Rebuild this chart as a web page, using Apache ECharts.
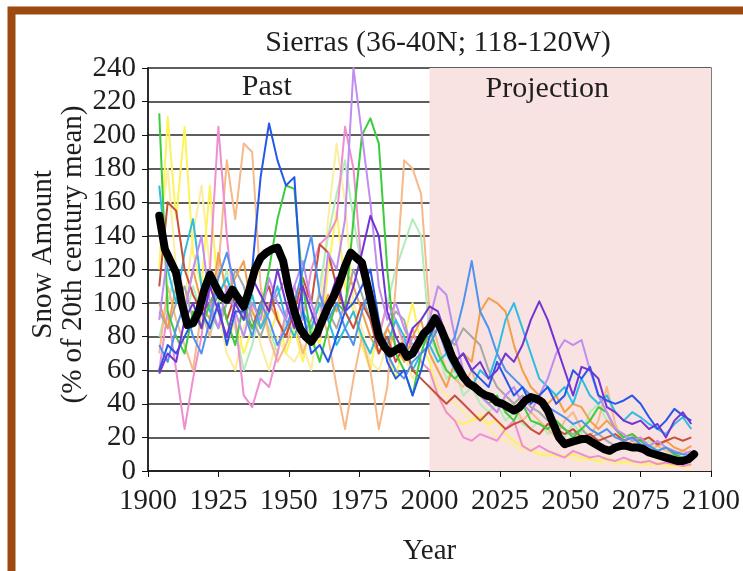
<!DOCTYPE html>
<html><head><meta charset="utf-8">
<script src="https://cdn.jsdelivr.net/npm/echarts@6/dist/echarts.min.js"></script>
<style>html,body{margin:0;padding:0;background:#fff}#c{width:743px;height:571px}</style>
</head><body><div id="c"></div>
<script>
// ---------- DATA ----------
const titleText = 'Sierras (36-40N; 118-120W)';
const xTickMin = 1900, xTickMax = 2100, xTickStep = 25;
const yTickMin = 0, yTickMax = 240, yTickStep = 20;
const pastLabel = 'Past';
const projLabel = 'Projection';
const projectionStart = 2000;

const runYears = [
  1904,1907,1910,1913,1916,1919,1922,1925,
  1928,1931,1934,1937,1940,1943,1946,1949,
  1952,1955,1958,1961,1964,1967,1970,1973,
  1976,1979,1982,1985,1988,1991,1994,1997,
  2000,2003,2006,2009,2012,2015,2018,2021,
  2024,2027,2030,2033,2036,2039,2042,2045,
  2048,2051,2054,2057,2060,2063,2066,2069,
  2072,2075,2078,2081,2084,2087,2090,2093
];

const runGreen = [
  213,95,80,70,95,85,100,110,
  90,75,100,85,95,120,150,170,
  168,110,80,65,85,100,95,150,
  200,210,195,120,70,60,45,70,
  85,70,60,55,60,50,45,40,
  45,35,30,40,30,28,25,30,
  25,20,25,30,38,35,25,20,
  22,18,15,12,14,10,8,6
];
const runYellow = [
  120,211,150,205,130,110,170,100,
  75,90,70,85,100,80,95,70,
  85,65,90,75,120,155,110,95,
  75,60,90,70,55,80,100,75,
  65,45,35,30,28,30,32,28,
  30,22,18,15,12,10,9,10,
  8,10,8,7,6,8,6,5,
  6,5,4,5,4,3,4,3
];
const runPink = [
  60,95,60,25,55,80,120,205,
  140,90,45,38,55,50,70,95,
  110,90,120,135,140,150,205,180,
  120,95,80,100,90,75,85,65,
  60,45,35,30,20,18,22,20,
  18,25,30,15,12,15,12,10,
  8,12,10,8,9,7,6,8,
  6,5,6,4,5,4,3,4
];
const runPeach = [
  70,110,90,75,60,95,80,120,
  185,150,195,190,110,80,65,75,
  90,70,85,100,80,50,25,55,
  80,60,25,50,110,185,180,165,
  95,75,60,55,50,60,45,40,
  35,45,40,30,35,30,25,20,
  30,35,25,20,30,50,28,15,
  18,14,12,15,12,10,12,10
];
const runBlue = [
  60,75,70,80,90,95,85,100,
  75,95,95,120,175,207,185,170,
  175,95,70,75,65,80,95,100,
  110,120,90,65,55,60,45,60,
  80,90,75,65,70,60,55,50,
  65,55,45,50,40,45,50,40,
  45,60,55,62,45,42,40,42,
  45,40,32,25,30,37,33,30
];
const runViolet = [
  58,70,65,90,100,85,110,95,
  80,100,90,115,105,95,120,100,
  85,110,95,80,100,115,95,110,
  130,152,140,95,80,70,85,90,
  98,95,80,65,70,60,65,55,
  60,70,65,75,90,101,90,75,
  60,45,62,60,55,38,35,30,
  28,30,25,28,20,30,35,28
];
const runLavender = [
  90,130,110,95,120,140,100,85,
  110,95,80,100,90,115,100,90,
  110,125,100,85,130,120,150,240,
  200,160,110,90,100,85,75,80,
  90,110,105,80,60,50,45,40,
  35,45,50,40,35,45,55,70,
  78,75,78,60,45,35,25,22,
  18,20,15,18,14,12,10,12
];
const runCyan = [
  170,120,100,130,150,110,95,105,
  115,100,90,105,85,95,110,90,
  80,95,85,100,90,75,85,95,
  80,70,85,75,90,80,60,70,
  75,65,70,60,55,50,60,55,
  70,90,100,85,70,55,50,45,
  50,40,55,45,40,45,35,30,
  35,32,28,25,22,28,32,25
];
const runOrange = [
  100,85,110,95,120,100,90,130,
  105,115,125,95,85,100,90,80,
  100,85,75,90,105,95,120,110,
  95,80,70,85,75,65,80,90,
  70,60,50,65,70,65,95,103,
  100,95,75,60,50,45,40,45,
  35,40,38,30,25,30,25,20,
  22,18,20,15,18,14,12,15
];
const runLightGreen = [
  80,100,120,90,110,95,80,100,
  120,85,60,75,95,85,70,90,
  110,95,80,110,140,165,185,150,
  120,95,80,100,120,135,150,140,
  80,70,55,60,45,50,40,35,
  40,30,35,28,25,30,22,25,
  20,28,22,35,40,30,25,18,
  20,15,18,12,14,10,8,9
];
const runRed = [
  110,160,155,120,105,95,100,110,
  90,105,95,85,100,110,90,80,
  95,115,100,135,130,110,95,85,
  100,90,70,80,65,75,60,55,
  50,45,40,45,40,35,30,35,
  30,25,28,30,25,22,28,25,
  22,25,20,22,18,20,22,18,
  20,18,20,16,18,20,18,20
];
const runGray = [
  95,85,100,110,90,105,95,85,
  100,120,110,90,80,95,105,115,
  95,80,90,105,95,85,100,120,
  105,90,75,85,95,90,70,75,
  80,85,80,75,85,80,75,60,
  50,45,40,45,38,35,30,28,
  25,22,25,20,22,18,15,16,
  14,12,13,11,10,9,8,7
];
const runPaleYellow = [
  140,180,120,100,140,170,120,95,
  70,60,85,100,75,60,80,70,
  65,75,60,95,150,195,160,100,
  85,65,60,75,90,70,55,65,
  60,50,45,40,35,30,35,25,
  20,18,15,12,14,10,12,8,
  10,7,6,8,5,6,4,5,
  4,3,4,3,2,3,2,2
];
const runCornflower = [
  75,65,85,100,80,70,90,115,
  130,110,95,80,100,90,75,85,
  100,120,140,105,90,100,85,75,
  95,110,85,70,60,55,65,70,
  75,85,70,80,100,125,95,85,
  70,60,55,50,45,40,38,35,
  32,28,30,25,22,25,20,18,
  20,16,15,12,14,11,10,9
];

const meanYears = [
  1904,1906,1908,1910,1912,1914,1916,1918,1920,1922,1924,1926,
  1928,1930,1932,1934,1936,1938,1940,1942,1944,1946,1948,1950,
  1952,1954,1956,1958,1960,1962,1964,1966,1968,1970,1972,1974,
  1976,1978,1980,1982,1984,1986,1988,1990,1992,1994,1996,1998,
  2000,2002,2004,2006,2008,2010,2012,2014,2016,2018,2020,2022,
  2024,2026,2028,2030,2032,2034,2036,2038,2040,2042,2044,2046,
  2048,2050,2052,2054,2056,2058,2060,2062,2064,2066,2068,2070,
  2072,2074,2076,2078,2080,2082,2084,2086,2088,2090,2092,2094
];
const meanValues = [
  152,132,125,118,100,87,88,95,108,117,110,104,
  102,108,103,98,108,120,127,130,132,133,125,108,
  95,85,80,77,82,90,98,104,112,122,130,127,
  124,110,95,80,74,70,72,74,68,70,76,82,
  85,91,85,77,68,62,56,52,50,47,45,44,
  41,40,38,36,38,42,44,43,41,36,28,20,
  16,17,18,19,19,17,15,13,12,14,15,15,
  14,14,13,11,10,9,8,7,6,6,7,10
];

const runList = [runPaleYellow, runYellow, runLightGreen, runPeach, runPink, runGray,
  runOrange, runCyan, runRed, runGreen, runLavender, runCornflower, runBlue, runViolet];
const runColors = ['#fbeea0', '#fcf45a', '#b2ecbc', '#f6b98a', '#ee8fd0', '#a8a8a8',
  '#f2a04a', '#2ebde0', '#c8503c', '#3ccc3c', '#bf8ef0', '#4f92f0', '#2458ea', '#7434d4'];

// ---------- CHART ----------
const FONT = '"Liberation Serif", "DejaVu Serif", serif';
const TXT = '#1e1e1e';
const chart = echarts.init(document.getElementById('c'), null, {renderer: 'canvas'});

const series = runList.map((vals, k) => ({
  type: 'line',
  name: 'run' + (k + 1),
  data: runYears.map((y, i) => [y, vals[i]]),
  showSymbol: false,
  silent: true,
  z: 2,
  lineStyle: {width: 2, color: runColors[k], join: 'round'},
  itemStyle: {color: runColors[k]}
}));
series[0].markArea = {
  silent: true,
  data: [
    [{xAxis: xTickMin, itemStyle: {color: 'rgba(0,0,0,0)'},
      label: {show: true, position: 'insideTop', formatter: pastLabel, offset: [-22, -1],
        fontFamily: FONT, fontSize: 30, color: TXT}},
     {xAxis: projectionStart}],
    [{xAxis: projectionStart, itemStyle: {color: '#f9e2e2'},
      label: {show: true, position: 'insideTop', formatter: projLabel, offset: [-23, 1],
        fontFamily: FONT, fontSize: 30, color: TXT}},
     {xAxis: xTickMax}]
  ]
};
series.push({
  type: 'line',
  name: 'mean',
  data: meanYears.map((y, i) => [y, meanValues[i]]),
  showSymbol: false,
  silent: true,
  z: 5,
  lineStyle: {width: 8, color: '#000', join: 'round', cap: 'round'},
  itemStyle: {color: '#000'}
});

chart.setOption({
  animation: false,
  backgroundColor: '#fff',
  title: {
    text: titleText, left: 433, top: 23, textAlign: 'center',
    textStyle: {fontFamily: FONT, fontSize: 30, fontWeight: 'normal', color: TXT}
  },
  grid: {left: 148, right: 30, top: 68, bottom: 98, show: true, borderColor: '#555', borderWidth: 1.5},
  xAxis: {
    type: 'value', min: xTickMin, max: xTickMax, interval: xTickStep,
    name: 'Year', nameLocation: 'middle', nameGap: 66,
    nameTextStyle: {fontFamily: FONT, fontSize: 29, color: TXT},
    axisLine: {lineStyle: {color: '#111', width: 1.5}},
    axisTick: {show: true, length: 6, lineStyle: {color: '#111'}},
    axisLabel: {fontFamily: FONT, fontSize: 29, color: TXT, margin: 16, formatter: v => String(v)},
    splitLine: {show: false}
  },
  yAxis: {
    type: 'value', min: yTickMin, max: yTickMax, interval: yTickStep,
    name: 'Snow Amount\n(% of 20th century mean)', nameLocation: 'middle', nameGap: 60, nameRotate: 90,
    nameMoveOverlap: false,
    nameTextStyle: {fontFamily: FONT, fontSize: 29, color: TXT, lineHeight: 30, padding: [0, 0, 0, 30]},
    axisLine: {show: true, lineStyle: {color: '#111', width: 1.5}},
    axisTick: {show: true, length: 6, lineStyle: {color: '#111'}},
    axisLabel: {fontFamily: FONT, fontSize: 29, color: TXT, margin: 12, formatter: v => String(v)},
    splitLine: {show: true, lineStyle: {color: '#5e5e5e', width: 2}}
  },
  graphic: [{
    type: 'rect', silent: true, z: 100,
    shape: {x: 11.5, y: 10.5, width: 900, height: 800},
    style: {fill: 'none', stroke: '#9c4a12', lineWidth: 8}
  }],
  series: series
});
</script>
</body></html>
